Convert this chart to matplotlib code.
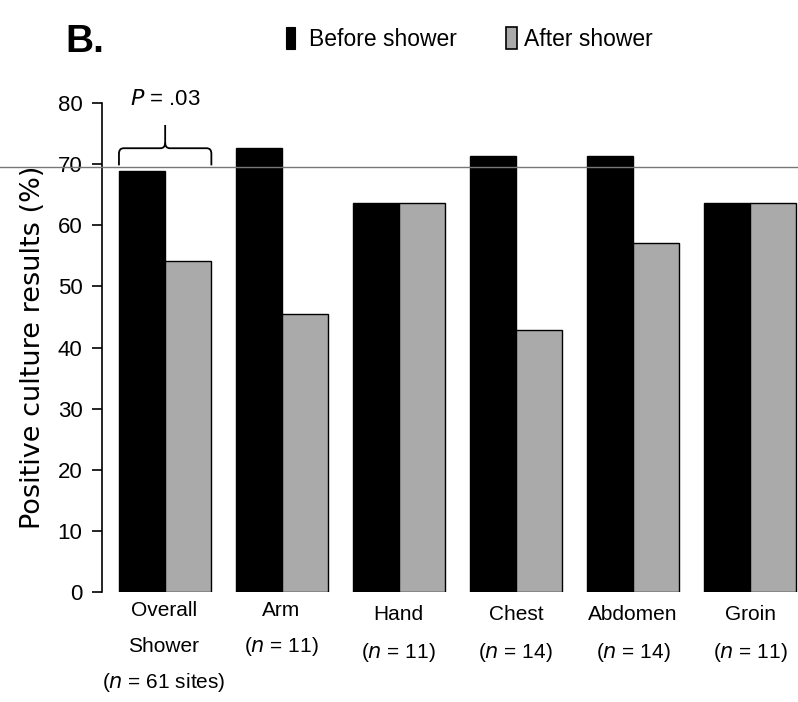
import matplotlib
matplotlib.use("Agg")
import matplotlib.pyplot as plt
from matplotlib.lines import Line2D
from matplotlib.path import Path
from matplotlib.patches import PathPatch
import numpy as np

categories = ["Overall\nShower", "Arm", "Hand", "Chest", "Abdomen", "Groin"]
n_labels = ["(n = 61 sites)", "(n = 11)", "(n = 11)", "(n = 14)", "(n = 14)", "(n = 11)"]
before = [68.9, 72.7, 63.6, 71.4, 71.4, 63.6]
after = [54.1, 45.5, 63.6, 42.9, 57.1, 63.6]
yticks = [0, 10, 20, 30, 40, 50, 60, 70, 80]
series_names = ["Before shower", "After shower"]
p_text = ".03"

plt.rcParams['font.family'] = ["Liberation Sans", "DejaVu Sans"]

W, H = 798, 702
fig = plt.figure(figsize=(W / 100, H / 100), dpi=100)
ax = fig.add_axes([102 / W, 1 - 592 / H, (W - 102) / W, (592 - 103) / H])

x = np.arange(len(categories))
bw = 0.395
ax.bar(x - bw / 2, before, bw, color="black", edgecolor="black", linewidth=1)
ax.bar(x + bw / 2, after, bw, color="#aaaaaa", edgecolor="black", linewidth=1)

ax.set_xlim(-0.54, 5.41)
ax.set_ylim(0, 80)
ax.set_yticks(yticks)
ax.set_yticklabels([str(t) for t in yticks], fontsize=16)
ax.set_xticks([])
for s in ["top", "right", "bottom"]:
    ax.spines[s].set_visible(False)
ax.spines["left"].set_linewidth(1.2)
ax.tick_params(axis="y", direction="out", length=7, width=1.2, pad=7)
fig.text(33 / W, 1 - 347 / H, "Positive culture results (%)", fontsize=19.5,
         family=["DejaVu Sans"], rotation=90, ha="center", va="center")

# category labels
for i, (c, nl) in enumerate(zip(categories, n_labels)):
    lines = c.split("\n")
    y0 = 611 if i < 2 else 614
    xc = (164 + i * 117.3) / W
    for j, ln in enumerate(lines):
        fig.text(xc, 1 - (y0 + j * 36) / H, ln, ha="center", va="center", fontsize=15)
    ny = y0 + len(lines) * 36 if i == 0 else (646 if i == 1 else 653)
    rest = nl[2:-1]
    fig.text(xc, 1 - ny / H, "(" + r"$\it{n}$" + rest + ")",
             ha="center", va="center", fontsize=15)

# curly brace
bx0 = 0 - bw
bx1 = 0 + bw
yb = 72.6
r = 0.04
dy = 0.9
verts = [(bx0, 69.8), (bx0, yb - dy), (bx0, yb), (bx0 + r, yb),
         (-r, yb), (0, yb), (0, yb + dy),
         (0, 76.4)]
codes = [Path.MOVETO, Path.LINETO, Path.CURVE3, Path.CURVE3,
         Path.LINETO, Path.CURVE3, Path.CURVE3, Path.LINETO]
ax.add_patch(PathPatch(Path(verts, codes), fill=False, lw=1.3, clip_on=False))
verts2 = [(bx1, 69.8), (bx1, yb - dy), (bx1, yb), (bx1 - r, yb),
          (r, yb), (0, yb), (0, yb + dy)]
codes2 = [Path.MOVETO, Path.LINETO, Path.CURVE3, Path.CURVE3,
          Path.LINETO, Path.CURVE3, Path.CURVE3]
ax.add_patch(PathPatch(Path(verts2, codes2), fill=False, lw=1.3, clip_on=False))
ax.text(0, 80.6, r"$\it{P}$ = " + p_text, ha="center", va="center", fontsize=16)

# title letter and legend
fig.text(65 / W, 1 - 42 / H, "B.", fontsize=28, fontweight="bold",
         ha="left", va="center")
fig.patches.append(plt.Rectangle((286 / W, 1 - 49 / H), 9 / W, 22 / H, transform=fig.transFigure,
                                 facecolor="black", edgecolor="black", lw=0.8))
fig.text(309 / W, 1 - 39 / H, series_names[0], fontsize=16.5, ha="left", va="center")
fig.patches.append(plt.Rectangle((506 / W, 1 - 49 / H), 11 / W, 22 / H, transform=fig.transFigure,
                                 facecolor="#aaaaaa", edgecolor="black", lw=1.2))
fig.text(524 / W, 1 - 39 / H, series_names[1], fontsize=16.5, ha="left", va="center")

# stray horizontal line across the image
fig.add_artist(Line2D([0, 1], [1 - 167 / H, 1 - 167 / H], transform=fig.transFigure,
                      color="#777777", lw=1))

fig.savefig("out.png", dpi=100)
